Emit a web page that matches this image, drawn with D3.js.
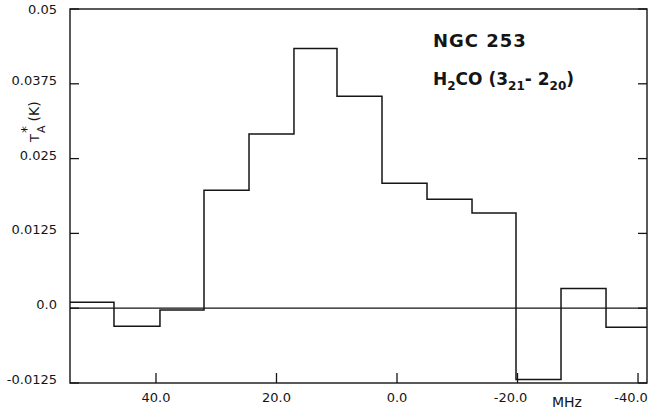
<!DOCTYPE html>
<html>
<head>
<meta charset="utf-8">
<script src="https://cdn.jsdelivr.net/npm/d3@7"></script>
<style>
  body { margin: 0; background: #fff; }
  svg { display: block; font-family: "DejaVu Sans", sans-serif; }
</style>
</head>
<body>
<script>
// channel edges (MHz) and antenna temperature per channel (K)
const edges = [54.27, 46.97, 39.34, 32.03, 24.56, 17.10, 9.96, 2.49, -4.98, -12.45, -19.75, -27.22, -34.69, -41.49];
const temps = [0.0010, -0.0030, -0.0003, 0.0197, 0.0291, 0.0434, 0.0354, 0.0209, 0.0182, 0.0159, -0.0119, 0.0033, -0.0032];

const xTicks = [40, 20, 0, -20, -40];
const xTickLabels = ["40.0", "20.0", "0.0", "-20.0", "-40.0"];
const yTicks = [0.05, 0.0375, 0.025, 0.0125, 0.0, -0.0125];
const yTickLabels = ["0.05", "0.0375", "0.025", "0.0125", "0.0", "-0.0125"];

const W = 650, H = 417;
const mLeft = 70, mRight = 647, mTop = 9, mBottom = 383;
const ink = "#151515";

const svg = d3.select("body").append("svg")
  .attr("width", W).attr("height", H);

const x = d3.scaleLinear().domain([edges[0], edges[edges.length - 1]]).range([mLeft, mRight]);
const y = d3.scaleLinear().domain([-0.0125, 0.05]).range([mBottom, mTop]);

// frame
svg.append("rect")
  .attr("x", mLeft).attr("y", mTop)
  .attr("width", mRight - mLeft).attr("height", mBottom - mTop)
  .attr("fill", "none").attr("stroke", ink).attr("stroke-width", 1.4);

// inward ticks
const g = svg.append("g").attr("stroke", ink).attr("stroke-width", 1.3);
g.selectAll("line.xt").data(xTicks).enter().append("line")
  .attr("x1", d => x(d)).attr("x2", d => x(d))
  .attr("y1", mBottom).attr("y2", mBottom - 10);
g.selectAll("line.yl").data(yTicks).enter().append("line")
  .attr("x1", mLeft).attr("x2", mLeft + 9)
  .attr("y1", d => y(d)).attr("y2", d => y(d));
g.selectAll("line.yr").data(yTicks).enter().append("line")
  .attr("x1", mRight).attr("x2", mRight - 9)
  .attr("y1", d => y(d)).attr("y2", d => y(d));

// tick labels
svg.selectAll("text.xl").data(xTicks).enter().append("text")
  .attr("x", d => x(d) + (d < 0 ? -7 : 0))
  .attr("y", 402)
  .attr("text-anchor", "middle")
  .attr("font-size", 13).attr("fill", ink)
  .text((d, i) => xTickLabels[i]);

svg.selectAll("text.yl").data(yTicks).enter().append("text")
  .attr("x", 57)
  .attr("y", d => Math.max(y(d) + 1, 14))
  .attr("text-anchor", "end")
  .attr("font-size", 13).attr("fill", ink)
  .text((d, i) => yTickLabels[i]);

// zero line
svg.append("line")
  .attr("x1", mLeft).attr("x2", mRight)
  .attr("y1", y(0)).attr("y2", y(0))
  .attr("stroke", ink).attr("stroke-width", 1.3);

// spectrum histogram
const pts = temps.map((t, i) => [edges[i], t]);
pts.push([edges[edges.length - 1], temps[temps.length - 1]]);
const line = d3.line()
  .x(d => x(d[0])).y(d => y(d[1]))
  .curve(d3.curveStepAfter);
svg.append("path")
  .attr("d", line(pts))
  .attr("fill", "none").attr("stroke", ink).attr("stroke-width", 1.5);

// axis titles
svg.append("text")
  .attr("x", 567).attr("y", 407)
  .attr("text-anchor", "middle")
  .attr("font-size", 14).attr("fill", ink)
  .text("MHz");

const yl = svg.append("text")
  .attr("transform", "translate(39,142) rotate(-90)")
  .attr("font-size", 13).attr("fill", ink);
yl.append("tspan").text("T");
yl.append("tspan").attr("font-size", 14).attr("dy", -8).attr("dx", 1).text("*");
yl.append("tspan").attr("font-size", 11).attr("dy", 14).attr("dx", -7).text("A");
yl.append("tspan").attr("font-size", 14).attr("dy", -6).attr("dx", 4).text("(K)");

// annotation
svg.append("text")
  .attr("x", 433).attr("y", 47)
  .attr("font-size", 18).attr("font-weight", "bold")
  .attr("letter-spacing", 1).attr("fill", ink)
  .text("NGC 253");

const mol = svg.append("text")
  .attr("x", 433).attr("y", 85)
  .attr("font-size", 17).attr("font-weight", "bold").attr("fill", ink);
mol.append("tspan").text("H");
mol.append("tspan").attr("font-size", 12).attr("dy", 5).text("2");
mol.append("tspan").attr("dy", -5).text("CO (3");
mol.append("tspan").attr("font-size", 12).attr("dy", 5).text("21");
mol.append("tspan").attr("dy", -5).text("- 2");
mol.append("tspan").attr("font-size", 12).attr("dy", 5).text("20");
mol.append("tspan").attr("dy", -5).text(")");
</script>
</body>
</html>
